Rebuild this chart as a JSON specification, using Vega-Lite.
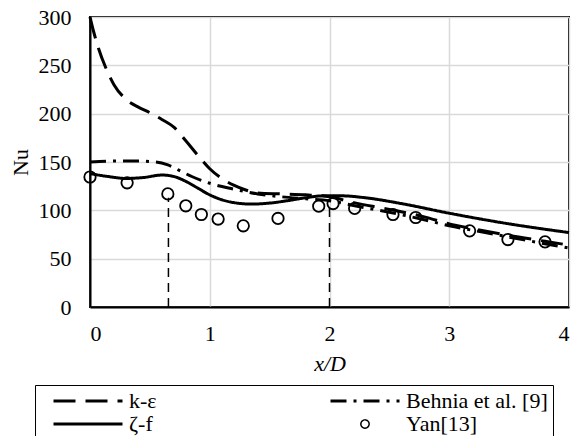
{
  "$schema": "https://vega.github.io/schema/vega-lite/v6.json",
  "width": 479,
  "height": 290,
  "autosize": {"type": "none"},
  "padding": {"left": 90, "top": 17, "right": 6, "bottom": 129},
  "config": {
    "font": "Liberation Serif",
    "view": {"stroke": "black", "strokeWidth": 2},
    "axis": {
      "labelFont": "Liberation Serif",
      "labelFontSize": 22,
      "labelColor": "black",
      "titleFont": "Liberation Serif",
      "titleFontSize": 22,
      "titleFontWeight": "normal",
      "titleColor": "black",
      "ticks": false,
      "gridColor": "#d9d9d9",
      "gridWidth": 1.5,
      "domainColor": "black",
      "domainWidth": 2
    }
  },
  "datasets": {
    "lines": [
      {"series": "k-ε", "x": 0, "Nu": 300},
      {"series": "k-ε", "x": 0.03, "Nu": 285},
      {"series": "k-ε", "x": 0.07, "Nu": 268},
      {"series": "k-ε", "x": 0.13, "Nu": 248},
      {"series": "k-ε", "x": 0.2, "Nu": 230},
      {"series": "k-ε", "x": 0.3, "Nu": 215},
      {"series": "k-ε", "x": 0.4, "Nu": 207},
      {"series": "k-ε", "x": 0.5, "Nu": 201},
      {"series": "k-ε", "x": 0.6, "Nu": 194},
      {"series": "k-ε", "x": 0.7, "Nu": 186},
      {"series": "k-ε", "x": 0.8, "Nu": 172},
      {"series": "k-ε", "x": 0.9, "Nu": 157},
      {"series": "k-ε", "x": 1.0, "Nu": 143},
      {"series": "k-ε", "x": 1.1, "Nu": 133},
      {"series": "k-ε", "x": 1.2, "Nu": 126},
      {"series": "k-ε", "x": 1.3, "Nu": 121},
      {"series": "k-ε", "x": 1.4, "Nu": 118},
      {"series": "k-ε", "x": 1.6, "Nu": 117},
      {"series": "k-ε", "x": 1.8, "Nu": 116},
      {"series": "k-ε", "x": 2.0, "Nu": 114},
      {"series": "k-ε", "x": 2.2, "Nu": 108},
      {"series": "k-ε", "x": 2.5, "Nu": 101},
      {"series": "k-ε", "x": 2.8, "Nu": 93},
      {"series": "k-ε", "x": 3.0, "Nu": 86},
      {"series": "k-ε", "x": 3.2, "Nu": 81},
      {"series": "k-ε", "x": 3.5, "Nu": 74},
      {"series": "k-ε", "x": 3.8, "Nu": 68},
      {"series": "k-ε", "x": 4.0, "Nu": 64},
      {"series": "Behnia et al. [9]", "x": 0, "Nu": 150},
      {"series": "Behnia et al. [9]", "x": 0.2, "Nu": 151},
      {"series": "Behnia et al. [9]", "x": 0.4, "Nu": 151},
      {"series": "Behnia et al. [9]", "x": 0.55, "Nu": 150},
      {"series": "Behnia et al. [9]", "x": 0.65, "Nu": 147},
      {"series": "Behnia et al. [9]", "x": 0.75, "Nu": 141},
      {"series": "Behnia et al. [9]", "x": 0.85, "Nu": 135},
      {"series": "Behnia et al. [9]", "x": 1.0, "Nu": 128},
      {"series": "Behnia et al. [9]", "x": 1.2, "Nu": 122},
      {"series": "Behnia et al. [9]", "x": 1.4, "Nu": 117},
      {"series": "Behnia et al. [9]", "x": 1.6, "Nu": 114},
      {"series": "Behnia et al. [9]", "x": 1.8, "Nu": 112},
      {"series": "Behnia et al. [9]", "x": 2.0, "Nu": 110},
      {"series": "Behnia et al. [9]", "x": 2.2, "Nu": 105},
      {"series": "Behnia et al. [9]", "x": 2.5, "Nu": 98},
      {"series": "Behnia et al. [9]", "x": 2.8, "Nu": 90},
      {"series": "Behnia et al. [9]", "x": 3.0, "Nu": 84},
      {"series": "Behnia et al. [9]", "x": 3.3, "Nu": 77},
      {"series": "Behnia et al. [9]", "x": 3.6, "Nu": 70},
      {"series": "Behnia et al. [9]", "x": 4.0, "Nu": 61},
      {"series": "ζ-f", "x": 0, "Nu": 138},
      {"series": "ζ-f", "x": 0.15, "Nu": 135},
      {"series": "ζ-f", "x": 0.3, "Nu": 133},
      {"series": "ζ-f", "x": 0.45, "Nu": 134},
      {"series": "ζ-f", "x": 0.6, "Nu": 136.5},
      {"series": "ζ-f", "x": 0.7, "Nu": 135},
      {"series": "ζ-f", "x": 0.8, "Nu": 130},
      {"series": "ζ-f", "x": 0.9, "Nu": 123},
      {"series": "ζ-f", "x": 1.0, "Nu": 116},
      {"series": "ζ-f", "x": 1.1, "Nu": 111},
      {"series": "ζ-f", "x": 1.2, "Nu": 108},
      {"series": "ζ-f", "x": 1.35, "Nu": 106.5},
      {"series": "ζ-f", "x": 1.5, "Nu": 107.5},
      {"series": "ζ-f", "x": 1.65, "Nu": 110},
      {"series": "ζ-f", "x": 1.8, "Nu": 113},
      {"series": "ζ-f", "x": 1.95, "Nu": 115},
      {"series": "ζ-f", "x": 2.1, "Nu": 115},
      {"series": "ζ-f", "x": 2.3, "Nu": 113},
      {"series": "ζ-f", "x": 2.6, "Nu": 107},
      {"series": "ζ-f", "x": 3.0, "Nu": 97},
      {"series": "ζ-f", "x": 3.5, "Nu": 86},
      {"series": "ζ-f", "x": 4.0, "Nu": 77}
    ],
    "yan": [
      {"series": "Yan[13]", "x": 0, "Nu": 134.5},
      {"series": "Yan[13]", "x": 0.31, "Nu": 128.5},
      {"series": "Yan[13]", "x": 0.65, "Nu": 117},
      {"series": "Yan[13]", "x": 0.8, "Nu": 104.7},
      {"series": "Yan[13]", "x": 0.93, "Nu": 95.7},
      {"series": "Yan[13]", "x": 1.07, "Nu": 91},
      {"series": "Yan[13]", "x": 1.28, "Nu": 84},
      {"series": "Yan[13]", "x": 1.57, "Nu": 91.6},
      {"series": "Yan[13]", "x": 1.91, "Nu": 104.3},
      {"series": "Yan[13]", "x": 2.03, "Nu": 107},
      {"series": "Yan[13]", "x": 2.21, "Nu": 102},
      {"series": "Yan[13]", "x": 2.53, "Nu": 95.7},
      {"series": "Yan[13]", "x": 2.72, "Nu": 92.6},
      {"series": "Yan[13]", "x": 3.17, "Nu": 78.8},
      {"series": "Yan[13]", "x": 3.49, "Nu": 69.8},
      {"series": "Yan[13]", "x": 3.8, "Nu": 67.4}
    ],
    "rules": [
      {"x": 0.655, "y0": 0, "y1": 113},
      {"x": 2.0, "y0": 0, "y1": 111}
    ]
  },
  "layer": [
    {
      "data": {"name": "rules"},
      "mark": {"type": "rule", "color": "black", "strokeWidth": 1.5, "strokeDash": [9, 6]},
      "encoding": {
        "x": {"field": "x", "type": "quantitative"},
        "y": {"field": "y0", "type": "quantitative"},
        "y2": {"field": "y1"}
      }
    },
    {
      "data": {"name": "lines"},
      "mark": {"type": "line", "color": "black", "strokeWidth": 3, "interpolate": "monotone"},
      "encoding": {
        "x": {
          "field": "x", "type": "quantitative",
          "scale": {"domain": [0, 4], "nice": false},
          "axis": {"title": "x/D", "titleFontStyle": "italic", "values": [0, 1, 2, 3, 4], "format": "d", "labelPadding": 16, "titlePadding": 9}
        },
        "y": {
          "field": "Nu", "type": "quantitative",
          "scale": {"domain": [0, 300], "nice": false},
          "axis": {"title": "Nu", "values": [0, 50, 100, 150, 200, 250, 300], "labelPadding": 19, "titlePadding": 6}
        },
        "strokeDash": {
          "field": "series", "type": "nominal",
          "scale": {
            "domain": ["k-ε", "ζ-f", "Behnia et al. [9]", "Yan[13]"],
            "range": [[22, 10], [1, 0], [16, 7, 3, 7], [1, 0]]
          },
          "legend": {
            "title": "\u00a0",
            "titleOrient": "left",
            "titlePadding": 20,
            "titleFont": "Liberation Serif",
            "titleFontSize": 22,
            "orient": "none",
            "legendX": -55,
            "legendY": 368,
            "columns": 2,
            "columnPadding": 167,
            "rowPadding": 1,
            "padding": 5,
            "strokeColor": "black",
            "symbolType": "stroke",
            "symbolSize": 4761,
            "symbolOffset": 17,
            "symbolStrokeWidth": 3,
            "symbolStrokeColor": "black",
            "labelFont": "Liberation Serif",
            "labelFontSize": 22,
            "labelColor": "black",
            "labelOffset": 30,
            "labelLimit": 300,
            "encode": {
              "symbols": {
                "update": {
                  "shape": {"signal": "datum.value === 'Yan[13]' ? 'M-0.12,0A0.12,0.12 0 1,1 0.12,0A0.12,0.12 0 1,1 -0.12,0Z' : 'stroke'"},
                  "strokeWidth": {"signal": "datum.value === 'Yan[13]' ? 1.5 : 3"},
                  "fill": {"value": "transparent"},
                  "stroke": {"value": "black"}
                }
              }
            }
          }
        }
      }
    },
    {
      "data": {"name": "yan"},
      "mark": {"type": "point", "shape": "circle", "filled": false, "color": "black", "strokeWidth": 1.8, "size": 130, "opacity": 1},
      "encoding": {
        "x": {"field": "x", "type": "quantitative"},
        "y": {"field": "Nu", "type": "quantitative"}
      }
    }
  ]
}
